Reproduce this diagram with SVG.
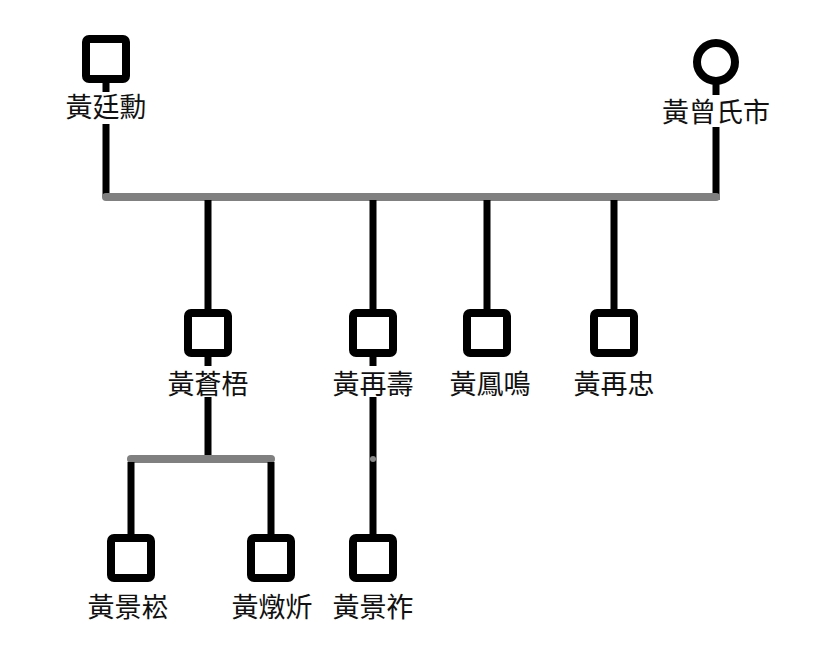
<svg xmlns="http://www.w3.org/2000/svg" width="815" height="654" viewBox="0 0 815 654">
<style>
.n{fill:#fff;stroke:#000;stroke-width:8}
.l{stroke:#000;stroke-width:7;fill:none}
.b{stroke:#808080;stroke-width:8;stroke-linecap:round;fill:none}
text{font-family:"Noto Sans CJK TC","Noto Sans CJK SC",sans-serif;font-size:27px;fill:#111;text-anchor:middle;dominant-baseline:central}
</style>
<rect width="815" height="654" fill="#fff"/>
<g id="connectors">
<path class="l" d="M106 80V92M106 124V197M716 82V95M716 127V200"/>
<path class="b" d="M106 197H716"/>
<path class="l" d="M208 200V312M373 200V312M487 200V312M614 200V312"/>
<path class="l" d="M208 356V366M208 397V459M373 356V366M373 397V537"/>
<circle cx="373" cy="459" r="3" fill="#888"/>
<path class="b" d="M131 459H271"/>
<path class="l" d="M131 462V537M271 462V537"/>
</g>
<g id="n1"><rect class="n" x="86" y="39" width="40" height="40" rx="3"/><text x="106" y="105">黃廷勳</text></g>
<g id="n2"><circle class="n" cx="716" cy="62" r="19"/><text x="716" y="110">黃曾氏市</text></g>
<g id="n3"><rect class="n" x="188" y="313" width="40" height="40" rx="3"/><text x="208" y="382">黃蒼梧</text></g>
<g id="n4"><rect class="n" x="353" y="313" width="40" height="40" rx="3"/><text x="373" y="382">黃再壽</text></g>
<g id="n5"><rect class="n" x="467" y="313" width="40" height="40" rx="3"/><text x="490" y="382">黃鳳鳴</text></g>
<g id="n6"><rect class="n" x="594" y="313" width="40" height="40" rx="3"/><text x="614" y="382">黃再忠</text></g>
<g id="n7"><rect class="n" x="111" y="538" width="40" height="40" rx="3"/><text x="128" y="605">黃景崧</text></g>
<g id="n8"><rect class="n" x="251" y="538" width="40" height="40" rx="3"/><text x="272" y="605">黃燉炘</text></g>
<g id="n9"><rect class="n" x="353" y="538" width="40" height="40" rx="3"/><text x="373" y="605">黃景祚</text></g>
</svg>
